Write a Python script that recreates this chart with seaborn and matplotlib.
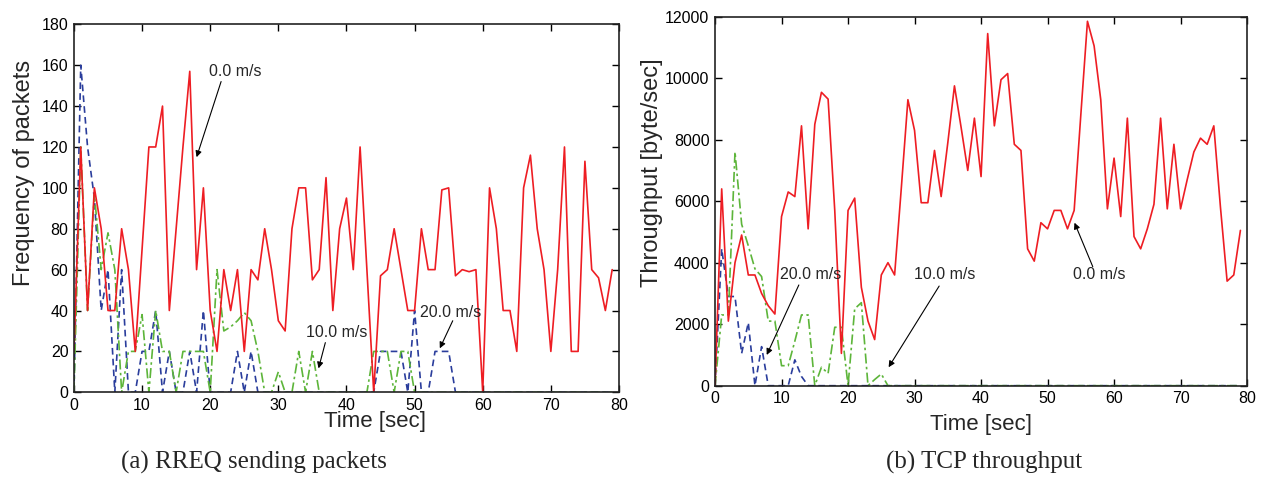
import numpy as np
import pandas as pd
import seaborn as sns
import matplotlib
matplotlib.use("Agg")
import matplotlib.pyplot as plt

# ---------------- data ----------------
time_sec = list(range(80))

rreq_0 = [20, 120, 40, 100, 80, 40, 40, 80, 60, 20,
          70, 120, 120, 140, 40, 80, 120, 157, 60, 100,
          40, 20, 60, 40, 60, 20, 60, 55, 80, 60,
          35, 30, 80, 100, 100, 55, 60, 105, 40, 80,
          95, 60, 120, 60, 0, 57, 60, 80, 60, 40,
          40, 80, 60, 60, 99, 100, 57, 60, 59, 60,
          0, 100, 80, 40, 40, 20, 100, 116, 80, 60,
          20, 60, 120, 20, 20, 113, 60, 56, 40, 60]
rreq_10 = [0, 120, 40, 97, 60, 78, 60, 0, 20, 20,
           38, 0, 40, 20, 20, 0, 20, 20, 20, 20,
           0, 60, 30, 32, 35, 39, 35, 20, 0, 0,
           10, 0, 0, 20, 0, 20, 0, 0, 0, 0,
           0, 0, 0, 0, 20, 20, 20, 0, 20, 20] + [0] * 30
rreq_20 = [0, 160, 120, 95, 40, 60, 0, 60, 0, 0,
           20, 20, 40, 0, 20, 0, 0, 20, 0, 40,
           0, 0, 0, 0, 20, 0, 20, 0, 0, 0,
           0, 0, 0, 0, 0, 0, 0, 0, 0, 0,
           0, 0, 0, 0, 0, 20, 20, 20, 20, 0,
           40, 0, 0, 20, 20, 20, 0] + [0] * 23

tcp_0 = [0, 6400, 2100, 4000, 4900, 3600, 3600, 3000, 2600, 2330,
         5500, 6300, 6150, 8450, 5100, 8500, 9540, 9320, 5700, 1050,
         5700, 6100, 3200, 2100, 1500, 3600, 4000, 3600, 6400, 9300,
         8300, 5950, 5950, 7650, 6150, 7900, 9750, 8400, 7000, 8700,
         6800, 11450, 8450, 9950, 10150, 7850, 7650, 4450, 4050, 5300,
         5100, 5700, 5700, 5100, 5700, 8800, 11850, 11050, 9300, 5750,
         7400, 5500, 8700, 4850, 4450, 5100, 5900, 8700, 5750, 7850,
         5750, 6700, 7600, 8050, 7850, 8450, 5800, 3400, 3600, 5050]
tcp_10 = [0, 2300, 2300, 7600, 5250, 4550, 3800, 3550, 2100, 2100,
          650, 650, 1450, 2300, 2300, 0, 600, 400, 1900, 1900,
          0, 2500, 2700, 0, 200, 380, 0] + [0] * 53
tcp_20 = [0, 4450, 2900, 2900, 1050, 2050, 0, 1270, 0, 0,
          0, 0, 840, 300, 0] + [0] * 65

left_yticks = list(range(0, 181, 20))
right_yticks = list(range(0, 12001, 2000))
xticks = list(range(0, 81, 10))

RED = "#ee1d23"
GREEN = "#5db53a"
BLUE = "#2a3d9c"

# ---------------- style ----------------
sns.set_style("ticks")
plt.rcParams["font.family"] = ["Liberation Sans", "DejaVu Sans"]

fig = plt.figure(figsize=(12.64, 4.86), dpi=100)
ax1 = fig.add_axes([0.0585, 0.1928, 0.4312, 0.7572])
ax2 = fig.add_axes([0.5657, 0.2064, 0.4209, 0.7593])


def draw(ax, s0, s10, s20):
    sns.lineplot(x=time_sec, y=s20, ax=ax, color=BLUE, lw=1.2,
                 linestyle=(0, (4, 2.5)))
    sns.lineplot(x=time_sec, y=s10, ax=ax, color=GREEN, lw=1.2,
                 linestyle=(0, (6, 2, 1.5, 2)))
    sns.lineplot(x=time_sec, y=s0, ax=ax, color=RED, lw=1.2)


draw(ax1, rreq_0, rreq_10, rreq_20)
draw(ax2, tcp_0, tcp_10, tcp_20)

for ax in (ax1, ax2):
    ax.set_xlim(0, 80)
    ax.set_xticks(xticks)
    ax.tick_params(direction="in", length=5, width=1.0, top=True, right=True,
                   labelsize=11.5, colors="black", pad=4)
    for sp in ax.spines.values():
        sp.set_visible(True)
        sp.set_linewidth(1.2)
        sp.set_color("#222222")
    ax.set_xlabel("Time [sec]", fontsize=16)

ax1.set_ylim(0, 180)
ax1.set_yticks(left_yticks)
ax1.set_ylabel("Frequency of packets", fontsize=17)
ax2.set_ylim(0, 12000)
ax2.set_yticks(right_yticks)
ax2.set_ylabel("Throughput [byte/sec]", fontsize=17)

# label placement (axes fractions)
ax1.xaxis.set_label_coords(0.552, -0.05)
ax2.xaxis.set_label_coords(0.50, -0.077)
ax1.yaxis.set_label_coords(-0.072, 0.596)
ax2.yaxis.set_label_coords(-0.098, 0.576)

arrow = dict(arrowstyle="-|>", color="black", lw=0.8, mutation_scale=9,
             shrinkA=0, shrinkB=0)
tk = dict(fontsize=11.5, ha="center", va="center")

ax1.annotate("", xy=(18.0, 115), xytext=(21.6, 152), arrowprops=arrow)
ax1.text(23.7, 157, "0.0 m/s", **tk)
ax1.annotate("", xy=(35.9, 11.7), xytext=(36.9, 24.3), arrowprops=arrow)
ax1.text(38.5, 29.2, "10.0 m/s", **tk)
ax1.annotate("", xy=(53.7, 21.5), xytext=(55.6, 35.0), arrowprops=arrow)
ax1.text(55.3, 38.8, "20.0 m/s", **tk)

ax2.annotate("", xy=(7.77, 1000), xytext=(12.6, 3275), arrowprops=arrow)
ax2.text(14.3, 3600, "20.0 m/s", **tk)
ax2.annotate("", xy=(26.1, 600), xytext=(33.7, 3240), arrowprops=arrow)
ax2.text(34.5, 3600, "10.0 m/s", **tk)
ax2.annotate("", xy=(54.05, 5300), xytext=(56.8, 3870), arrowprops=arrow)
ax2.text(57.8, 3630, "0.0 m/s", **tk)

cap = dict(fontsize=18, ha="center", va="center",
           family=["Liberation Serif", "DejaVu Serif"])
fig.text(254 / 1264, 1 - 462 / 486, "(a) RREQ sending packets", **cap)
fig.text(984 / 1264, 1 - 462 / 486, "(b) TCP throughput", **cap)

fig.savefig("out.png", dpi=100)
